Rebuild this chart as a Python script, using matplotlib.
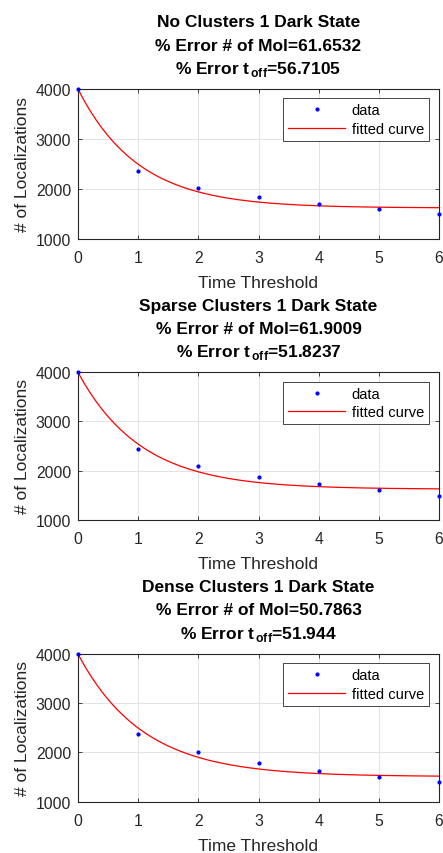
import numpy as np
import matplotlib
matplotlib.use("Agg")
import matplotlib.pyplot as plt

plt.rcParams['font.family'] = ['Liberation Sans', 'DejaVu Sans']
plt.rcParams['mathtext.fontset'] = 'custom'
plt.rcParams['mathtext.rm'] = 'Liberation Sans'
plt.rcParams['mathtext.bf'] = 'Liberation Sans:bold'

# ---- data ----
time_threshold = [0, 1, 2, 3, 4, 5, 6]
titles = ["No Clusters 1 Dark State", "Sparse Clusters 1 Dark State", "Dense Clusters 1 Dark State"]
err_mol = ["61.6532", "61.9009", "50.7863"]
err_toff = ["56.7105", "51.8237", "51.944"]
loc_none = [4000, 2370, 2030, 1850, 1700, 1600, 1500]
loc_sparse = [4000, 2440, 2090, 1870, 1730, 1610, 1490]
loc_dense = [4000, 2380, 2000, 1780, 1620, 1500, 1410]
# fitted curve parameters: amplitude, tau, offset
fit_amp = [2380, 2380, 2490]
fit_tau = [1.0, 1.05, 1.08]
fit_off = [1620, 1620, 1510]
yticks = [1000, 2000, 3000, 4000]
xticks = [0, 1, 2, 3, 4, 5, 6]

W, H = 443, 854
fig = plt.figure(figsize=(W / 100, H / 100), dpi=100)

# axes boxes in pixels: (left, top, right, bottom)
boxes = [(78, 90, 439, 240), (78, 373.3, 439, 520.7), (78, 655, 439, 802.7)]
title_baselines = [(26.7, 50.7, 74), (310.7, 334, 357.3), (592, 615.3, 639)]
series = [loc_none, loc_sparse, loc_dense]
dark = '#262626'

for i in range(3):
    l, t, r, b = boxes[i]
    ax = fig.add_axes([l / W, 1 - b / H, (r - l) / W, (b - t) / H])
    x = np.array(time_threshold)
    ax.plot(x, series[i], '.', color='#0000ff', markersize=4, label='data', zorder=3, clip_on=False)
    xf = np.linspace(0, 6, 300)
    yf = fit_amp[i] * np.exp(-xf / fit_tau[i]) + fit_off[i]
    ax.plot(xf, yf, '-', color='#ff0000', lw=0.9, label='fitted curve', zorder=2)
    ax.set_xlim(0, 6)
    ax.set_ylim(1000, 4000)
    ax.set_xticks(xticks)
    ax.set_yticks(yticks)
    ax.grid(True, color='#e3e3e3', lw=0.7)
    ax.set_axisbelow(True)
    for s in ax.spines.values():
        s.set_color(dark)
        s.set_linewidth(0.8)
    ax.tick_params(direction='in', length=3, width=0.6, colors=dark, labelsize=11.3,
                   top=True, right=True)
    ax.tick_params(axis='x', pad=8)
    ax.tick_params(axis='y', pad=5)
    ax.set_xlabel('Time Threshold', fontsize=12.5, color=dark, labelpad=7)
    ax.set_ylabel('# of Localizations', fontsize=12.5, color=dark, labelpad=4)
    # legend: 10 px in from the right edge, 9.3 px down from the top edge
    leg = ax.legend(loc='upper right', bbox_to_anchor=(1 - 10 / (r - l), 1 - 9.3 / (b - t)),
                    fontsize=10.5, frameon=True, fancybox=False, framealpha=1,
                    edgecolor=dark, borderpad=0.35, handlelength=3.9, handletextpad=0.45,
                    labelspacing=0.3, borderaxespad=0)
    leg.get_frame().set_linewidth(0.6)

    cx = ((l + r) / 2) / W
    tb = title_baselines[i]
    fig.text(cx, 1 - tb[0] / H, titles[i], ha='center', va='baseline', fontsize=12.5, fontweight='bold')
    fig.text(cx, 1 - tb[1] / H, '% Error # of Mol=' + err_mol[i], ha='center', va='baseline',
             fontsize=12.5, fontweight='bold')
    fig.text(cx, 1 - tb[2] / H, r'% Error t$_{\,\mathbf{off}}$=' + err_toff[i], ha='center', va='baseline',
             fontsize=12.5, fontweight='bold')

fig.savefig('out.png', dpi=100)
